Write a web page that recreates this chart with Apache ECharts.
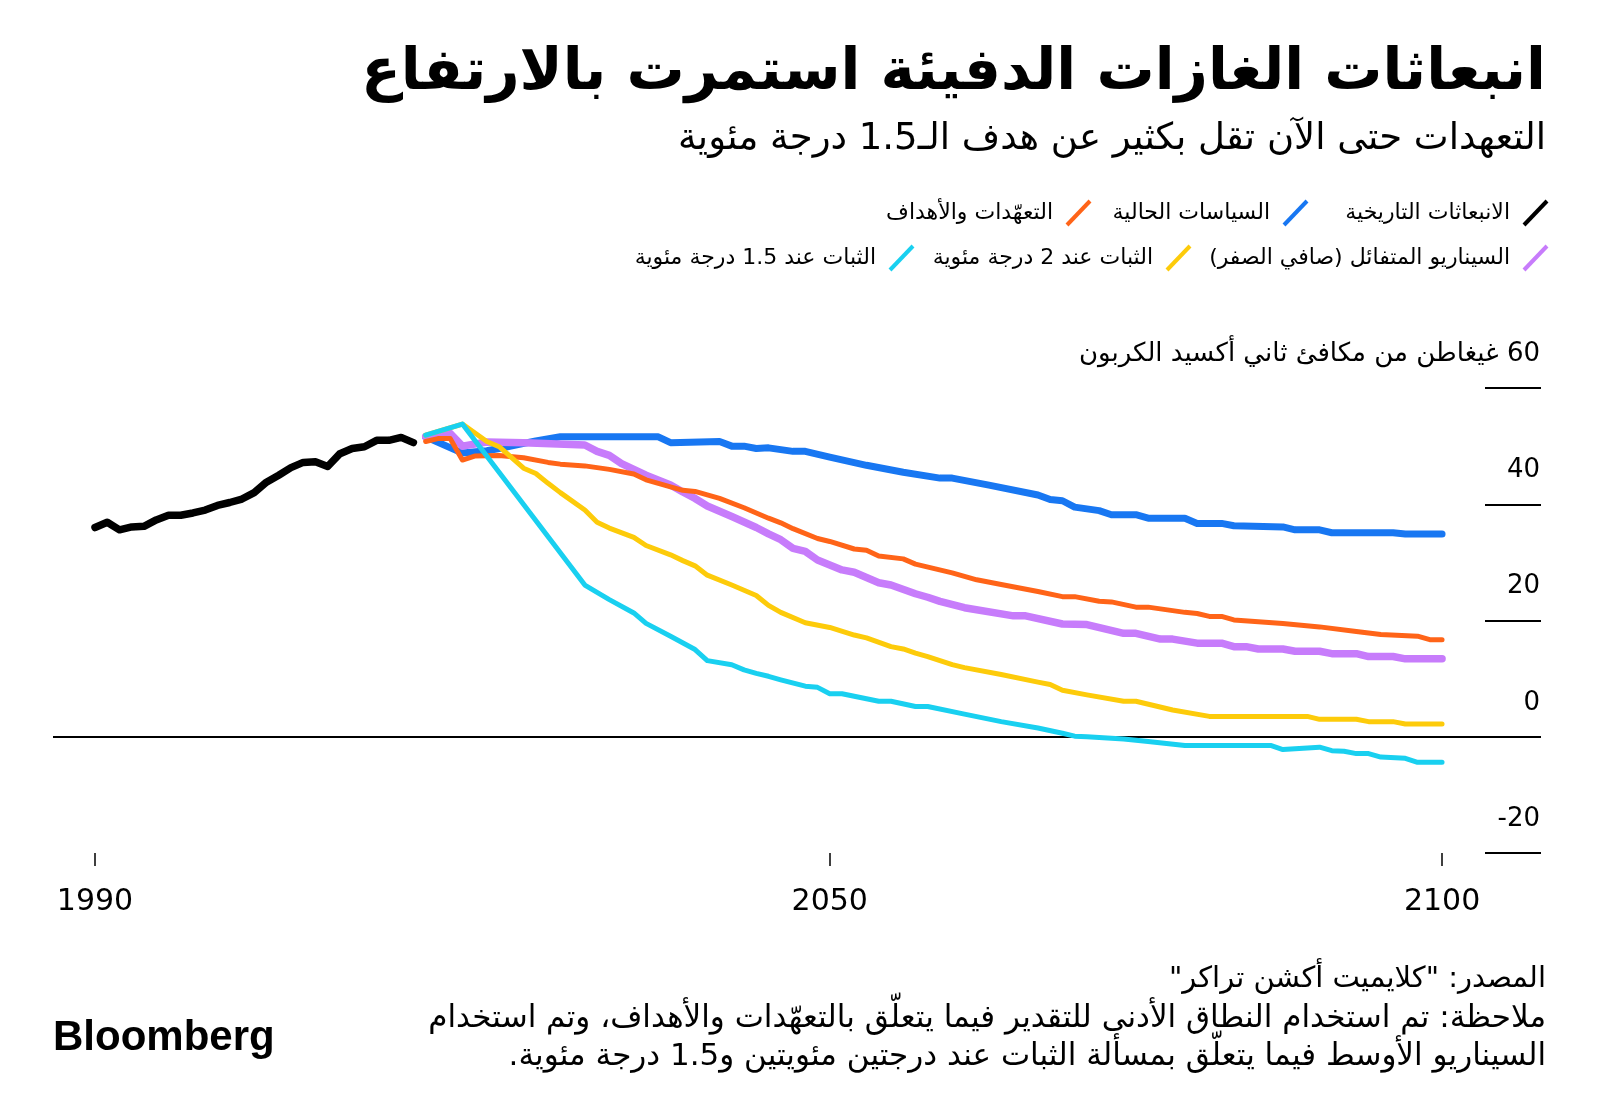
<!DOCTYPE html>
<html>
<head>
<meta charset="utf-8">
<script src="https://cdn.jsdelivr.net/npm/echarts@6/dist/echarts.min.js"></script>
<style>
html,body{margin:0;padding:0;background:#fff;}
#chart{width:1600px;height:1116px;}
</style>
</head>
<body>
<div id="chart"></div>
<script>
const RLM = '\u200F';
const rtl = s => RLM + s + RLM;

// ---- Texts ----
const titleText = 'انبعاثات الغازات الدفيئة استمرت بالارتفاع';
const subtitleText = 'التعهدات حتى الآن تقل بكثير عن هدف الـ1.5 درجة مئوية';
const unitText = 'غيغاطن من مكافئ ثاني أكسيد الكربون';
const sourceText = 'المصدر: "كلايميت أكشن تراكر"';
const noteLines = [
  'ملاحظة: تم استخدام النطاق الأدنى للتقدير فيما يتعلّق بالتعهّدات والأهداف، وتم استخدام',
  'السيناريو الأوسط فيما يتعلّق بمسألة الثبات عند درجتين مئويتين و1.5 درجة مئوية.'
];
const seriesNames = [
  'الانبعاثات التاريخية',
  'السياسات الحالية',
  'التعهّدات والأهداف',
  'السيناريو المتفائل (صافي الصفر)',
  'الثبات عند 2 درجة مئوية',
  'الثبات عند 1.5 درجة مئوية'
];
const seriesColors = ['#000000', '#1877f2', '#ff6418', '#c77cfb', '#fdcb0a', '#19d0f0'];

// ---- Axis ticks ----
const xTickYears = [1990, 2050, 2100];
const yTicks = [-20, 0, 20, 40, 60];

// ---- Data: [year, GtCO2e] ----
const historical = [
  [1990,36.0],[1991,36.9],[1992,35.6],[1993,36.1],[1994,36.2],[1995,37.3],[1996,38.1],
  [1997,38.1],[1998,38.5],[1999,39.0],[2000,39.8],[2001,40.3],[2002,40.9],[2003,42.0],
  [2004,43.8],[2005,45.0],[2006,46.3],[2007,47.2],[2008,47.3],[2009,46.5],[2010,48.7],
  [2011,49.6],[2012,49.9],[2013,51.0],[2014,51.0],[2015,51.5],[2016,50.6]
];
const currentPolicies = [
  [2017,51.6],[2020,48.8],[2022,49.2],[2023,49.6],[2026,50.9],[2028,51.6],[2036,51.6],
  [2037,50.6],[2041,50.8],[2042,50.0],[2043,50.0],[2044,49.6],[2045,49.7],[2047,49.1],
  [2048,49.1],[2050,48.1],[2053,46.7],[2056,45.5],[2059,44.5],[2060,44.5],[2063,43.3],
  [2067,41.6],[2068,40.8],[2069,40.6],[2070,39.5],[2072,38.9],[2073,38.2],[2075,38.2],
  [2076,37.6],[2079,37.6],[2080,36.7],[2082,36.7],[2083,36.3],[2087,36.1],[2088,35.6],
  [2090,35.6],[2091,35.1],[2096,35.1],[2097,34.9],[2100,34.9]
];
const pledgesTargets = [
  [2017,50.8],[2018,51.3],[2019,51.3],[2020,47.6],[2021,48.3],[2023,48.4],[2025,48.0],
  [2027,47.2],[2028,46.9],[2030,46.6],[2032,46.0],[2034,45.2],[2035,44.2],[2036,43.6],
  [2038,42.4],[2039,42.2],[2040,41.6],[2041,41.0],[2043,39.4],[2045,37.6],[2046,36.8],
  [2047,35.8],[2049,34.1],[2050,33.6],[2052,32.3],[2053,32.1],[2054,31.1],[2056,30.6],
  [2057,29.7],[2060,28.2],[2062,27.0],[2064,26.2],[2067,25.0],[2069,24.1],[2070,24.1],
  [2072,23.3],[2073,23.2],[2075,22.3],[2076,22.3],[2079,21.4],[2080,21.2],[2081,20.7],
  [2082,20.7],[2083,20.1],[2087,19.5],[2090,18.9],[2093,18.1],[2095,17.6],[2098,17.3],
  [2099,16.7],[2100,16.7]
];
const optimisticNetZero = [
  [2017,51.6],[2019,52.2],[2020,50.0],[2022,50.7],[2025,50.6],[2030,50.2],[2031,49.1],
  [2032,48.4],[2033,47.0],[2034,46.0],[2035,45.0],[2037,43.3],[2038,42.1],[2039,41.0],
  [2040,39.7],[2042,37.9],[2044,36.0],[2045,34.9],[2046,33.9],[2047,32.4],[2048,31.9],
  [2049,30.4],[2051,28.7],[2052,28.3],[2054,26.5],[2055,26.1],[2057,24.6],[2058,24.0],
  [2059,23.3],[2061,22.2],[2065,20.8],[2066,20.8],[2069,19.4],[2071,19.3],[2074,17.8],
  [2075,17.8],[2077,16.8],[2078,16.8],[2080,16.1],[2082,16.1],[2083,15.5],[2084,15.5],
  [2085,15.1],[2087,15.1],[2088,14.7],[2090,14.7],[2091,14.3],[2093,14.3],[2094,13.8],
  [2096,13.8],[2097,13.4],[2100,13.4]
];
const stabilise2C = [
  [2017,51.9],[2020,53.8],[2022,50.8],[2023,49.9],[2025,46.2],[2026,45.3],[2027,43.6],
  [2028,42.0],[2030,39.0],[2031,36.9],[2032,35.9],[2034,34.3],[2035,32.9],[2037,31.3],
  [2038,30.3],[2039,29.4],[2040,27.8],[2042,26.1],[2044,24.3],[2045,22.6],[2046,21.4],
  [2048,19.6],[2050,18.8],[2052,17.5],[2053,17.0],[2055,15.5],[2056,15.1],[2057,14.4],
  [2058,13.8],[2060,12.4],[2061,11.9],[2064,10.7],[2067,9.4],[2068,9.0],[2069,8.0],
  [2071,7.2],[2074,6.1],[2075,6.1],[2078,4.6],[2081,3.5],[2089,3.5],[2090,3.0],
  [2093,3.0],[2094,2.6],[2096,2.6],[2097,2.2],[2100,2.2]
];
const stabilise15C = [
  [2017,51.9],[2020,53.8],[2030,26.1],[2032,23.6],[2034,21.3],[2035,19.5],[2037,17.3],
  [2039,15.0],[2040,13.1],[2042,12.4],[2043,11.5],[2044,10.9],[2045,10.4],[2046,9.8],
  [2048,8.7],[2049,8.5],[2050,7.4],[2051,7.4],[2054,6.1],[2055,6.1],[2057,5.2],
  [2058,5.2],[2061,3.9],[2064,2.6],[2067,1.5],[2069,0.6],[2070,0.1],[2071,0.0],
  [2074,-0.4],[2076,-0.8],[2079,-1.5],[2086,-1.5],[2087,-2.2],[2090,-1.8],[2091,-2.4],
  [2092,-2.5],[2093,-2.9],[2094,-2.9],[2095,-3.5],[2097,-3.7],[2098,-4.4],[2100,-4.4]
];

const AR_FONT = '"DejaVu Sans", sans-serif';
const NUM_FONT = '"DejaVu Sans", sans-serif';

function lineSeries(name, data, color, width, z) {
  return {
    type: 'line', name: name, data: data, showSymbol: false, symbol: 'none',
    z: z, silent: true,
    lineStyle: { color: color, width: width, cap: 'round', join: 'round' }
  };
}

// legend layout (graphic): slash right edge x, row center y
const legendPos = [[1549,213],[1309,213],[1092,213],[1549,258],[1192,258],[915,258]];
const legendGraphics = [];
seriesNames.forEach((n, i) => {
  const xr = legendPos[i][0], yc = legendPos[i][1];
  legendGraphics.push({
    type: 'line', silent: true,
    shape: { x1: xr - 25, y1: yc + 12, x2: xr - 2, y2: yc - 12 },
    style: { stroke: seriesColors[i], lineWidth: 4 }
  });
  legendGraphics.push({
    type: 'text', silent: true, x: xr - 39, y: yc,
    style: { text: rtl(n), fill: '#000', font: '22px ' + AR_FONT,
             align: 'right', verticalAlign: 'middle', textAlign: 'right', textVerticalAlign: 'middle' }
  });
});

function rText(text, x, y, font) {
  return { type: 'text', silent: true, x: x, y: y,
    style: { text: rtl(text), fill: '#000', font: font,
             align: 'right', verticalAlign: 'middle', textAlign: 'right', textVerticalAlign: 'middle' } };
}

const chart = echarts.init(document.getElementById('chart'), null, { renderer: 'canvas' });
chart.setOption({
  animation: false,
  backgroundColor: '#ffffff',
  grid: { left: 53, right: 59, top: 388, bottom: 263, containLabel: false },
  xAxis: {
    type: 'value', min: 1986.57, max: 2108.08,
    axisLine: { show: false, onZero: false },
    splitLine: { show: false },
    axisTick: { show: true, customValues: xTickYears, length: 13, lineStyle: { color: '#000', width: 1.5 } },
    axisLabel: { show: true, customValues: xTickYears, margin: 34, color: '#000', fontSize: 30, fontFamily: NUM_FONT,
                 formatter: v => String(v) }
  },
  yAxis: {
    type: 'value', min: -20, max: 60, interval: 20, position: 'right',
    axisLine: { show: false },
    splitLine: { show: false },
    axisTick: { show: true, inside: true, length: 56, lineStyle: { color: '#000', width: 2 } },
    axisLabel: {
      show: true, inside: true, margin: 1, align: 'right', verticalAlign: 'bottom',
      lineHeight: 68, color: '#000', fontSize: 26, fontFamily: NUM_FONT,
      formatter: v => v === 60 ? rtl('60 ' + unitText) : String(v)
    }
  },
  series: [
    lineSeries(seriesNames[1], currentPolicies, seriesColors[1], 7, 2),
    lineSeries(seriesNames[3], optimisticNetZero, seriesColors[3], 7.5, 3),
    lineSeries(seriesNames[2], pledgesTargets, seriesColors[2], 5, 4),
    lineSeries(seriesNames[4], stabilise2C, seriesColors[4], 5, 5),
    lineSeries(seriesNames[5], stabilise15C, seriesColors[5], 5, 6),
    Object.assign(lineSeries(seriesNames[0], historical, seriesColors[0], 7.5, 7), {
      markLine: { silent: true, symbol: 'none', label: { show: false },
        lineStyle: { color: '#000', width: 2, type: 'solid' }, data: [{ yAxis: 0 }] }
    })
  ],
  graphic: [
    rText(titleText, 1546, 74, 'bold 58px ' + AR_FONT),
    rText(subtitleText, 1546, 139, '37px ' + AR_FONT),
    rText(sourceText, 1546, 979, '29px ' + AR_FONT),
    rText(noteLines[0], 1546, 1019, '31px ' + AR_FONT),
    rText(noteLines[1], 1546, 1057, '31px ' + AR_FONT),
    { type: 'text', silent: true, x: 53, y: 1038,
      style: { text: 'Bloomberg', fill: '#000', font: 'bold 42px "Liberation Sans", sans-serif',
               align: 'left', verticalAlign: 'middle', textAlign: 'left', textVerticalAlign: 'middle' } }
  ].concat(legendGraphics)
});
</script>
</body>
</html>
